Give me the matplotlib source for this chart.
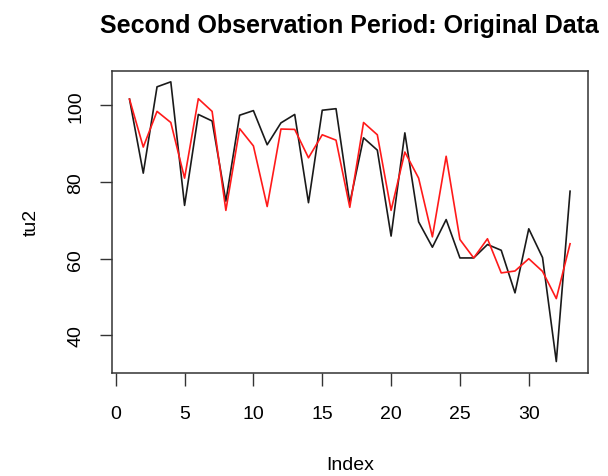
import matplotlib
matplotlib.use("Agg")
import matplotlib.pyplot as plt
import numpy as np

plt.rcParams['font.family'] = ['Liberation Sans', 'DejaVu Sans']

# observed values (black) and fitted values (red)
tu2 = [101.6, 82.3, 104.8, 106.1, 73.9, 97.6, 95.9, 75.0, 97.4, 98.6,
       89.7, 95.4, 97.6, 74.6, 98.7, 99.1, 74.5, 91.5, 88.3, 65.9,
       92.8, 69.6, 63.0, 70.2, 60.2, 60.2, 63.7, 62.2, 51.1, 67.8,
       60.3, 33.2, 77.6]
fitted = [101.6, 89.1, 98.4, 95.5, 81.0, 101.7, 98.4, 72.6, 93.9, 89.4,
          73.6, 93.8, 93.7, 86.3, 92.3, 90.9, 73.4, 95.5, 92.3, 72.6,
          87.8, 81.0, 65.7, 86.7, 65.0, 60.2, 65.2, 56.3, 56.8, 60.0,
          56.7, 49.6, 63.9]
x_ticks = [0, 5, 10, 15, 20, 25, 30]
y_ticks = [40, 60, 80, 100]

idx = np.arange(1, len(tu2) + 1)

fig = plt.figure(figsize=(6.08, 4.77), dpi=100)
ax = fig.add_axes([0.184, 0.2165, 0.7826, 0.6333])

ax.plot(idx, tu2, color='#1a1a1a', lw=1.2)
ax.plot(idx, fitted, color='#ff1a1a', lw=1.2)

# R-style 4% padding
lo, hi = min(tu2 + fitted), max(tu2 + fitted)
pad = (hi - lo) * 0.04
ax.set_ylim(lo - pad, hi + pad)
xpad = (len(tu2) - 1) * 0.04
ax.set_xlim(1 - xpad, len(tu2) + xpad)

ax.set_xticks(x_ticks)
ax.set_yticks(y_ticks)
ax.set_yticklabels([str(v) for v in y_ticks], rotation=90, va='center')
ax.tick_params(direction='out', length=9, width=1, color='#333333',
               labelsize=14)
ax.tick_params(axis='x', pad=14)
ax.tick_params(axis='y', pad=11)
for s in ax.spines.values():
    s.set_color('#333333')
    s.set_linewidth(1.1)

ax.set_xlabel('Index', fontsize=14, labelpad=25)
ax.set_ylabel('tu2', fontsize=14, labelpad=20)
ax.set_title('Second Observation Period: Original Data', fontsize=18,
             fontweight='bold', pad=28)

fig.savefig('out.png', dpi=100)
